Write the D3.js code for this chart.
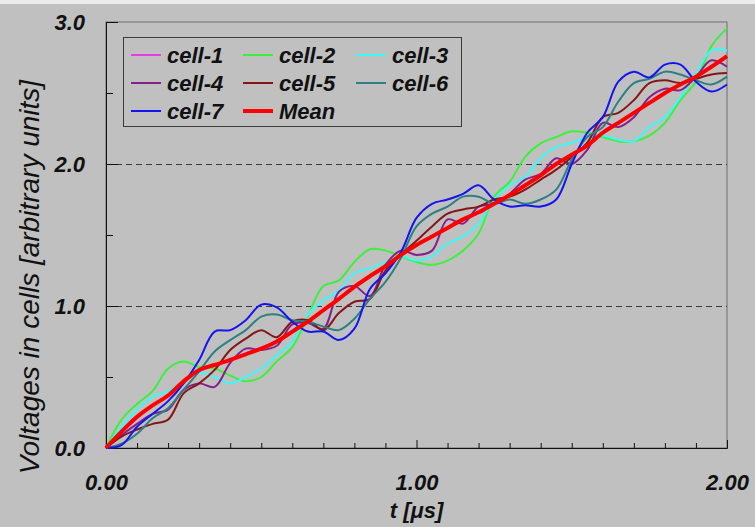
<!DOCTYPE html>
<html>
<head>
<meta charset="utf-8">
<script src="https://cdn.jsdelivr.net/npm/d3@7"></script>
<style>
  body { margin: 0; background: #c0c0c0; }
  svg { display: block; }
  .label { font-family: "Liberation Sans", Arial, sans-serif; font-style: italic; font-weight: bold; font-size: 22px; fill: #111; }
</style>
</head>
<body>
<div id="chart"></div>
<script>
// time axis in microseconds
const times = [0, 0.05, 0.1, 0.15, 0.2, 0.25, 0.3, 0.35, 0.4, 0.45,
  0.5, 0.55, 0.6, 0.65, 0.7, 0.75, 0.8, 0.85, 0.9, 0.95,
  1.0, 1.05, 1.1, 1.15, 1.2, 1.25, 1.3, 1.35, 1.4, 1.45,
  1.5, 1.55, 1.6, 1.65, 1.7, 1.75, 1.8, 1.85, 1.9, 1.95, 2.0];

const cell1 = [0, 0.11, 0.21, 0.30, 0.37, 0.46, 0.54, 0.58, 0.62, 0.66,
  0.70, 0.75, 0.82, 0.89, 0.97, 1.05, 1.13, 1.21, 1.28, 1.36,
  1.43, 1.49, 1.55, 1.61, 1.66, 1.72, 1.78, 1.85, 1.92, 2.00,
  2.06, 2.13, 2.22, 2.29, 2.36, 2.43, 2.50, 2.56, 2.61, 2.68, 2.75];
const cell2 = [0, 0.20, 0.31, 0.40, 0.56, 0.61, 0.57, 0.56, 0.51, 0.47,
  0.50, 0.61, 0.71, 0.93, 1.14, 1.18, 1.31, 1.40, 1.39, 1.35,
  1.31, 1.29, 1.32, 1.39, 1.51, 1.77, 1.875, 2.05, 2.145, 2.19,
  2.23, 2.22, 2.19, 2.16, 2.16, 2.20, 2.29, 2.45, 2.58, 2.83, 2.955];
const cell3 = [0, 0.15, 0.27, 0.36, 0.40, 0.47, 0.53, 0.50, 0.455, 0.50,
  0.56, 0.655, 0.75, 0.94, 1.04, 1.11, 1.23, 1.265, 1.31, 1.35,
  1.32, 1.35, 1.44, 1.49, 1.58, 1.75, 1.85, 1.91, 2.04, 2.12,
  2.15, 2.19, 2.20, 2.17, 2.16, 2.26, 2.33, 2.47, 2.64, 2.80, 2.80];
const cell4 = [0, 0.09, 0.17, 0.24, 0.27, 0.41, 0.455, 0.43, 0.60, 0.70,
  0.69, 0.72, 0.87, 0.88, 0.84, 1.10, 1.14, 1.07, 1.29, 1.39,
  1.36, 1.39, 1.61, 1.58, 1.70, 1.72, 1.79, 1.89, 1.93, 2.04,
  2.00, 2.10, 2.29, 2.26, 2.33, 2.47, 2.53, 2.52, 2.615, 2.73, 2.685];
const cell5 = [0, 0.08, 0.13, 0.17, 0.20, 0.385, 0.455, 0.55, 0.69, 0.77,
  0.83, 0.78, 0.89, 0.90, 0.83, 0.95, 1.03, 1.05, 1.25, 1.36,
  1.46, 1.56, 1.65, 1.68, 1.70, 1.75, 1.77, 1.82, 1.89, 1.96,
  2.05, 2.15, 2.33, 2.36, 2.45, 2.57, 2.59, 2.57, 2.60, 2.63, 2.64];
const cell6 = [0, 0.03, 0.10, 0.21, 0.28, 0.41, 0.54, 0.68, 0.76, 0.83,
  0.925, 0.94, 0.90, 0.89, 0.855, 0.83, 0.91, 1.05, 1.17, 1.34,
  1.56, 1.65, 1.70, 1.77, 1.77, 1.72, 1.75, 1.72, 1.75, 1.82,
  2.03, 2.19, 2.26, 2.44, 2.57, 2.60, 2.65, 2.63, 2.59, 2.56, 2.615];
const cell7 = [0, 0.02, 0.15, 0.24, 0.33, 0.455, 0.62, 0.82, 0.83, 0.90,
  1.01, 0.99, 0.89, 0.82, 0.82, 0.76, 0.84, 1.12, 1.23, 1.38,
  1.62, 1.72, 1.75, 1.79, 1.85, 1.75, 1.70, 1.71, 1.70, 1.75,
  2.00, 2.22, 2.33, 2.58, 2.65, 2.61, 2.70, 2.70, 2.58, 2.51, 2.56];
const mean = [0, 0.115, 0.22, 0.30, 0.37, 0.47, 0.55, 0.585, 0.62, 0.66,
  0.70, 0.75, 0.82, 0.89, 0.97, 1.05, 1.135, 1.21, 1.28, 1.36,
  1.43, 1.49, 1.55, 1.61, 1.66, 1.72, 1.78, 1.85, 1.92, 2.00,
  2.065, 2.13, 2.22, 2.29, 2.36, 2.43, 2.50, 2.56, 2.615, 2.685, 2.76];

const seriesNames = ['cell-1', 'cell-2', 'cell-3', 'cell-4', 'cell-5', 'cell-6', 'cell-7', 'Mean'];
const seriesValues = [cell1, cell2, cell3, cell4, cell5, cell6, cell7, mean];
const seriesColors = ['#e83ce8', '#3cf03c', '#3cf8f8', '#84208a', '#861616', '#2e8080', '#1414f0', '#ff0000'];

const yMajorTicks = [0, 1, 2, 3];
const yMinorTicks = [0.5, 1.5, 2.5];
const xMajorTicks = [0, 1, 2];
const xMinorTicks = [0.1, 0.2, 0.3, 0.4, 0.5, 0.6, 0.7, 0.8, 0.9, 1.1, 1.2, 1.3, 1.4, 1.5, 1.6, 1.7, 1.8, 1.9];
const gridValues = [1, 2];

const W = 755, H = 527;
const margin = {top: 22, right: 28, bottom: 79, left: 106};
const width = W - margin.left - margin.right;
const height = H - margin.top - margin.bottom;

const root = d3.select('#chart')
    .append('svg')
    .attr('width', W)
    .attr('height', H);

root.append('rect')
    .attr('width', W)
    .attr('height', 4)
    .attr('fill', '#ebebeb');

const svg = root.append('g')
    .attr('transform', `translate(${margin.left}, ${margin.top})`);

const x = d3.scaleLinear().domain([0, 2]).range([0, width]);
const y = d3.scaleLinear().domain([0, 3]).range([height, 0]);

// plot frame
svg.append('rect')
    .attr('x', 0)
    .attr('y', 0)
    .attr('width', width)
    .attr('height', height)
    .attr('fill', 'none')
    .attr('stroke', '#6e6e6e');

svg.selectAll('.grid')
    .data(gridValues)
    .enter()
    .append('line')
    .attr('class', 'grid')
    .attr('x1', 0)
    .attr('x2', width)
    .attr('y1', function(d) { return Math.round(y(d)) + 0.5; })
    .attr('y2', function(d) { return Math.round(y(d)) + 0.5; })
    .attr('stroke', '#3a3a3a')
    .attr('stroke-dasharray', '6,4');

function styleAxis(g) {
    g.selectAll('.domain').attr('stroke', '#111');
    g.selectAll('line').attr('stroke', '#111');
    g.selectAll('text').attr('class', 'label').attr('font-size', null).attr('font-family', null);
}

svg.append('g')
    .call(d3.axisLeft(y).tickValues(yMinorTicks).tickSizeInner(-7).tickSizeOuter(0).tickFormat(''))
    .call(styleAxis);
svg.append('g')
    .call(d3.axisLeft(y).tickValues(yMajorTicks).tickSizeInner(-12).tickSizeOuter(0).tickPadding(21)
        .tickFormat(d3.format('.1f')))
    .call(styleAxis);

svg.append('g')
    .attr('transform', `translate(0, ${height})`)
    .call(d3.axisBottom(x).tickValues(xMinorTicks).tickSizeInner(-5).tickSizeOuter(0).tickFormat(''))
    .call(styleAxis);
svg.append('g')
    .attr('transform', `translate(0, ${height})`)
    .call(d3.axisBottom(x).tickValues(xMajorTicks).tickSizeInner(-8).tickSizeOuter(0).tickPadding(26)
        .tickFormat(d3.format('.2f')))
    .call(styleAxis);

// series
const line = d3.line()
    .x(function(d, i) { return x(times[i]); })
    .y(function(d) { return y(d); });

seriesValues.forEach(function(values, k) {
    const isMean = seriesNames[k] === 'Mean';
    svg.append('path')
        .datum(values)
        .attr('fill', 'none')
        .attr('stroke', seriesColors[k])
        .attr('stroke-width', isMean ? 4 : 2)
        .attr('stroke-linejoin', 'round')
        .attr('d', line.curve(isMean ? d3.curveMonotoneX : d3.curveCatmullRom.alpha(0.5)));
});

// legend
const legend = root.append('g');
legend.append('rect')
    .attr('x', 123.5)
    .attr('y', 37.5)
    .attr('width', 338)
    .attr('height', 89)
    .attr('fill', 'none')
    .attr('stroke', '#3a3a3a');

const legendCols = [131, 243, 356];
const legendRows = [55, 83, 111];
seriesNames.forEach(function(name, k) {
    const lx = legendCols[k % 3];
    const ly = legendRows[Math.floor(k / 3)];
    legend.append('line')
        .attr('x1', lx)
        .attr('x2', lx + 30)
        .attr('y1', ly)
        .attr('y2', ly)
        .attr('stroke', seriesColors[k])
        .attr('stroke-width', name === 'Mean' ? 4 : 2);
    legend.append('text')
        .attr('class', 'label')
        .attr('x', lx + 36)
        .attr('y', ly + 8)
        .text(name);
});

// axis titles
root.append('text')
    .attr('class', 'label')
    .attr('text-anchor', 'middle')
    .attr('x', margin.left + x(1))
    .attr('y', 518)
    .text('t [μs]');

root.append('text')
    .attr('text-anchor', 'middle')
    .attr('transform', 'translate(39, 277) rotate(-90)')
    .style('font-family', '"Liberation Sans", Arial, sans-serif')
    .style('font-style', 'italic')
    .style('font-size', '28px')
    .style('fill', '#111')
    .text('Voltages in cells [arbitrary units]');
</script>
</body>
</html>
